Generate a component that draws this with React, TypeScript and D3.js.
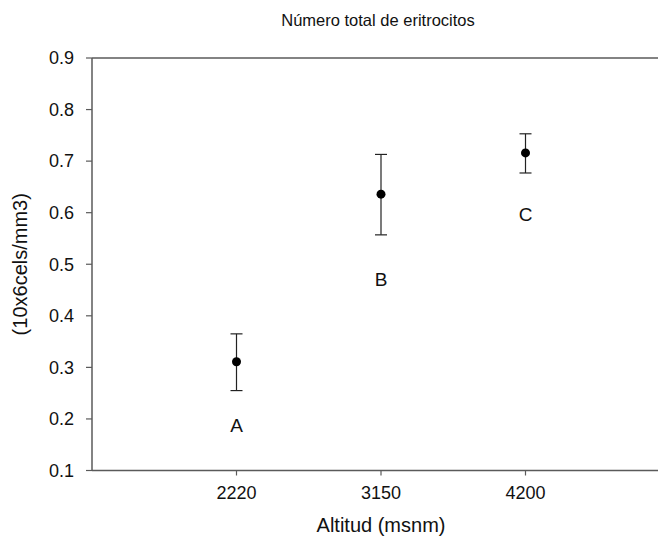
import React from "react";
import * as d3 from "d3";

const categories = ["2220", "3150", "4200"];
const means = [0.311, 0.636, 0.716];
const lower = [0.255, 0.557, 0.677];
const upper = [0.365, 0.713, 0.753];
const groupLetters = ["A", "B", "C"];
const letterY = [0.188, 0.47, 0.596];
const yTicks = [0.1, 0.2, 0.3, 0.4, 0.5, 0.6, 0.7, 0.8, 0.9];

const W = 658;
const H = 548;
const left = 92;
const top = 58;
const bottom = 470.5;
const step = 144.5;

export default function App() {
  const x = d3.scaleLinear().domain([0, 4]).range([left, left + 4 * step]);
  const y = d3.scaleLinear().domain([0.1, 0.9]).range([bottom, top]);
  const font = "Arial, 'Liberation Sans', sans-serif";
  const axisColor = "#5a5a5a";
  return (
    <svg
      width={W}
      height={H}
      style={{ position: "absolute", left: 0, top: 0, background: "#fff" }}
      fontFamily={font}
    >
      <rect width={W} height={H} fill="#fff" />
      <text x={378} y={26} textAnchor="middle" fontSize={16.5} fill="#111">
        Número total de eritrocitos
      </text>
      {/* frame (right edge lies outside the picture) */}
      <line x1={left} x2={W} y1={top} y2={top} stroke={axisColor} strokeWidth={1.5} />
      <line x1={left} x2={left} y1={top} y2={bottom} stroke={axisColor} strokeWidth={1.5} />
      <line x1={left} x2={W} y1={bottom} y2={bottom} stroke={axisColor} strokeWidth={1.5} />
      {yTicks.map((t) => (
        <g key={t}>
          <line x1={left - 6} x2={left} y1={y(t)} y2={y(t)} stroke={axisColor} strokeWidth={1.2} />
          <text x={left - 18} y={y(t)} dy="0.35em" textAnchor="end" fontSize={18} fill="#111">
            {t.toFixed(1)}
          </text>
        </g>
      ))}
      {categories.map((c, i) => (
        <g key={c}>
          <line x1={x(i + 1)} x2={x(i + 1)} y1={bottom} y2={bottom + 5} stroke={axisColor} strokeWidth={1.2} />
          <text x={x(i + 1)} y={bottom + 28} textAnchor="middle" fontSize={18} fill="#111">
            {c}
          </text>
        </g>
      ))}
      <text x={381} y={532} textAnchor="middle" fontSize={20} fill="#111">
        Altitud (msnm)
      </text>
      <text
        transform={`translate(20, ${(top + bottom) / 2}) rotate(-90)`}
        dy="0.35em"
        textAnchor="middle"
        fontSize={20}
        fill="#111"
      >
        (10x6cels/mm3)
      </text>
      {means.map((m, i) => {
        const cx = x(i + 1);
        return (
          <g key={i}>
            <line x1={cx} x2={cx} y1={y(upper[i])} y2={y(lower[i])} stroke="#222" strokeWidth={1.2} />
            <line x1={cx - 6} x2={cx + 6} y1={y(upper[i])} y2={y(upper[i])} stroke="#222" strokeWidth={1.2} />
            <line x1={cx - 6} x2={cx + 6} y1={y(lower[i])} y2={y(lower[i])} stroke="#222" strokeWidth={1.2} />
            <circle cx={cx} cy={y(m)} r={4.5} fill="#000" />
            <text x={cx} y={y(letterY[i])} dy="0.35em" textAnchor="middle" fontSize={19} fill="#111">
              {groupLetters[i]}
            </text>
          </g>
        );
      })}
    </svg>
  );
}
